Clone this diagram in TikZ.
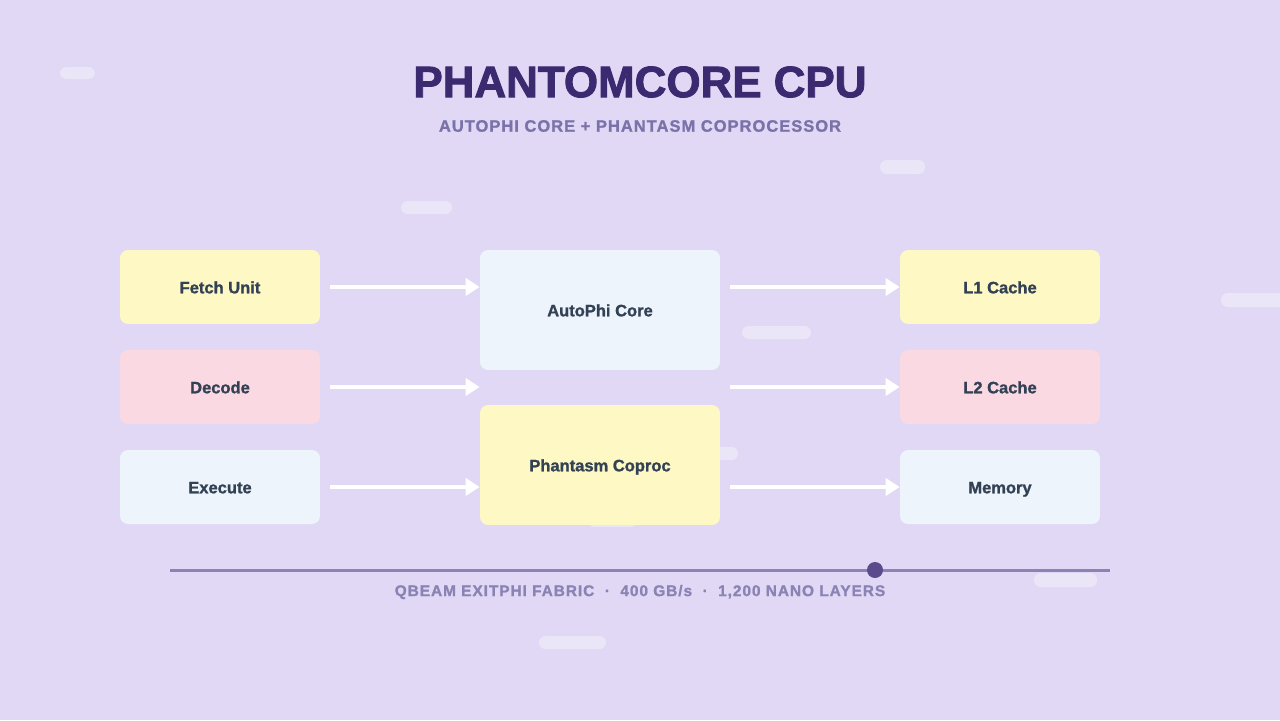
\documentclass[tikz,border=0pt]{standalone}
\usepackage{fontspec}
\setmainfont{Liberation Sans}[BoldFeatures={FakeBold=1.2}]
\newfontfamily\aralikli{Liberation Sans}[LetterSpace=6, BoldFeatures={FakeBold=1.2}]
\newfontfamily\kalin{Liberation Sans}[BoldFeatures={FakeBold=2}]
\usetikzlibrary{arrows.meta}

\definecolor{zemin}{HTML}{E0D8F5}
\definecolor{iz}{HTML}{EBE5F8}
\definecolor{sari}{HTML}{FEF8C4}
\definecolor{pembe}{HTML}{FBD9E3}
\definecolor{mavi}{HTML}{EEF4FC}
\definecolor{yazi}{HTML}{334155}
\definecolor{baslik}{HTML}{3B2A70}
\definecolor{altbaslik}{HTML}{7A72A8}
\definecolor{hat}{HTML}{8A83B3}
\definecolor{nokta}{HTML}{5B4A8C}

\begin{document}
\begin{tikzpicture}[x=0.02cm, y=-0.02cm,
  kutu/.style={rounded corners=0.16cm, minimum width=4cm, minimum height=1.48cm,
    text height=0.716em, text depth=0pt,
    text=yazi, font=\fontsize{9.4}{11}\selectfont\bfseries},
  ok/.style={draw=white, line width=0.08cm, shorten <=0.2cm,
    -{Triangle[length=0.28cm, width=0.34cm]}},
  iz/.style={fill=iz, rounded corners=0.13cm}]
  % --- arka plan ---
  \fill[zemin] (0,0) rectangle (1280,720);
  \useasboundingbox (0,0) rectangle (1280,720);

  % ---- soluk izler ----
  \fill[iz] (60,67) rectangle (95,79);
  \fill[iz] (880,160) rectangle (925,174);
  \fill[iz] (401,201) rectangle (452,214);
  \fill[iz] (742,326) rectangle (811,339);
  \fill[iz] (1221,293) rectangle (1290,307);
  \fill[iz] (690,447) rectangle (738,460);
  \fill[iz] (588,514) rectangle (637,527);
  \fill[iz] (1034,573) rectangle (1097,587);
  \fill[iz] (539,636) rectangle (606,649);

  % ---- basliklar ----
  \node[text=baslik, font=\kalin\fontsize{25}{28}\selectfont\bfseries] (baslik) at (640,82)
    {PHANTOMCORE CPU};
  \node[text=altbaslik, font=\aralikli\fontsize{9.4}{11}\selectfont\bfseries] (altbaslik) at (640,126)
    {AUTOPHI CORE + PHANTASM COPROCESSOR};

  % ---- 1) sol sutun ----
  \node[kutu, fill=sari]  (fetch)   at (220,287) {Fetch Unit};
  \node[kutu, fill=pembe] (decode)  at (220,387) {Decode};
  \node[kutu, fill=mavi]  (execute) at (220,487) {Execute};

  % ---- 2) orta: cekirdek + yardimci islemci ----
  \node[kutu, fill=mavi, minimum width=4.8cm, minimum height=2.4cm] (core)   at (600,310) {AutoPhi Core};
  \node[kutu, fill=sari, minimum width=4.8cm, minimum height=2.4cm] (coproc) at (600,465) {Phantasm Coproc};

  % ---- 3) sag sutun: bellek ----
  \node[kutu, fill=sari]  (l1)  at (1000,287) {L1 Cache};
  \node[kutu, fill=pembe] (l2)  at (1000,387) {L2 Cache};
  \node[kutu, fill=mavi]  (mem) at (1000,487) {Memory};

  % ---- oklar ----
  \draw[ok] (fetch.east) -- (fetch.east -| core.west);
  \draw[ok] (decode.east) -- (decode.east -| core.west);
  \draw[ok] (execute.east) -- (execute.east -| coproc.west);
  \draw[ok] (l1.west -| core.east) -- (l1.west);
  \draw[ok] (l2.west -| core.east) -- (l2.west);
  \draw[ok] (mem.west -| coproc.east) -- (mem.west);

  % ---- alt hat ----
  \coordinate (hatbas) at (170,570);
  \coordinate (hatson) at (1110,570);
  \draw[hat, line width=0.06cm] (hatbas) -- (hatson);
  \fill[nokta] (875,570) circle (0.16cm);
  \node[text=hat, font=\aralikli\fontsize{8.8}{11}\selectfont\bfseries] (altyazi) at (640,592)
    {QBEAM EXITPHI FABRIC \ · \ 400 GB/s \ · \ 1,200 NANO LAYERS};
\end{tikzpicture}
\end{document}
